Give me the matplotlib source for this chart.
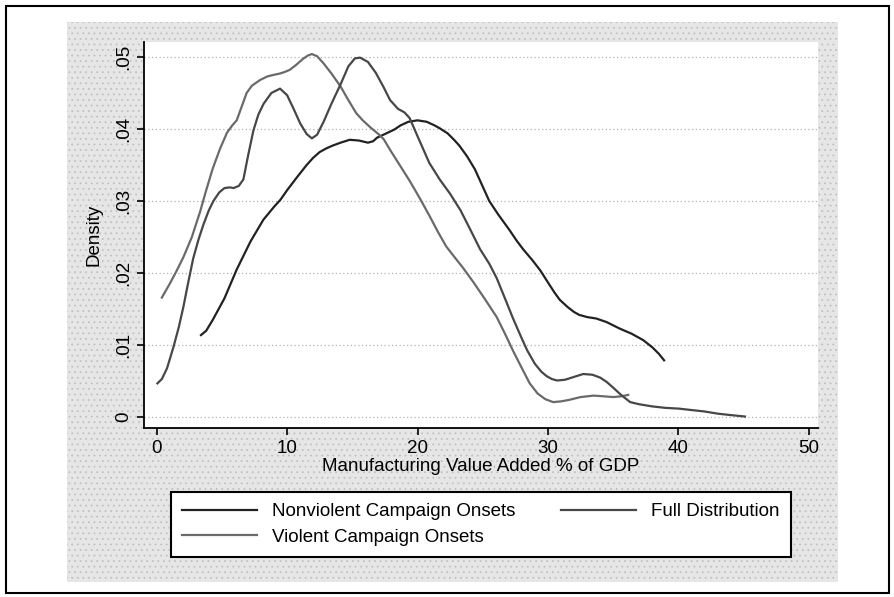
import matplotlib.pyplot as plt
from matplotlib.patches import Rectangle

plt.rcParams['font.family'] = ['Liberation Sans', 'DejaVu Sans']
plt.rcParams['hatch.linewidth'] = 0.5

# 読み取ったカーネル密度（x: 製造業付加価値 % of GDP, y: 密度）
nonviolent_x = [3.4, 3.8, 4.3, 5.2, 6.14, 7.2, 8.18, 9.0, 9.5, 10.0, 10.8, 11.5,
                12.0, 12.5, 13.0, 13.5, 14.1, 14.8, 15.5, 16.2, 16.6, 16.9, 17.5,
                18.2, 18.7, 19.3, 20.0, 20.7, 21.3, 21.7, 22.3, 22.8, 23.2, 23.8,
                24.4, 25.0, 25.5, 26.2, 27.0, 27.6, 28.1, 28.8, 29.4, 30.0, 30.5,
                30.9, 31.5, 32.0, 32.4, 33.0, 33.7, 34.5, 35.5, 36.4, 37.3, 38.0,
                38.5, 38.9]
nonviolent_y = [0.0114, 0.0120, 0.0135, 0.0165, 0.0205, 0.0244, 0.0274, 0.0292,
                0.0302, 0.0315, 0.0334, 0.0350, 0.0360, 0.0368, 0.0373, 0.0377,
                0.0381, 0.0385, 0.0384, 0.0381, 0.0383, 0.0388, 0.0393, 0.0399,
                0.0405, 0.0410, 0.0412, 0.0410, 0.0405, 0.0401, 0.0394, 0.0385,
                0.0377, 0.0362, 0.0344, 0.0320, 0.0300, 0.0281, 0.0261, 0.0245,
                0.0233, 0.0218, 0.0204, 0.0187, 0.0173, 0.0163, 0.0153, 0.0146,
                0.0142, 0.0139, 0.0137, 0.0132, 0.0123, 0.0116, 0.0107, 0.0097,
                0.0088, 0.0079]

full_x = [0.06, 0.4, 0.8, 1.3, 1.7, 2.05, 2.4, 2.8, 3.2, 3.6, 4.0, 4.35, 4.8,
          5.2, 5.6, 5.9, 6.3, 6.65, 7.0, 7.42, 7.8, 8.2, 8.8, 9.46, 10.0, 10.5,
          11.0, 11.5, 11.9, 12.3, 12.8, 13.4, 14.1, 14.7, 15.2, 15.6, 16.2,
          16.8, 17.4, 17.9, 18.5, 19.0, 19.4, 20.0, 20.9, 21.7, 22.5, 23.3,
          24.0, 24.8, 25.5, 26.07, 26.7, 27.3, 27.9, 28.4, 29.0, 29.5, 29.9,
          30.3, 30.7, 31.3, 32.0, 32.7, 33.4, 34.0, 34.5, 35.0, 35.6, 36.3,
          37.0, 38.0, 39.0, 40.0, 41.0, 42.0, 43.0, 44.0, 45.1]
full_y = [0.0047, 0.0053, 0.0068, 0.0098, 0.0125, 0.0153, 0.0185, 0.0220,
          0.0246, 0.0268, 0.0287, 0.0300, 0.0312, 0.0318, 0.0319, 0.0318,
          0.0321, 0.0330, 0.0362, 0.0398, 0.0420, 0.0435, 0.0450, 0.0456,
          0.0447, 0.0428, 0.0408, 0.0393, 0.0387, 0.0392, 0.0410, 0.0435,
          0.0462, 0.0487, 0.0498, 0.0499, 0.0493, 0.0478, 0.0458, 0.0440,
          0.0428, 0.0423, 0.0415, 0.0390, 0.0353, 0.0330, 0.0310, 0.0287,
          0.0262, 0.0233, 0.0213, 0.0193, 0.0165, 0.0138, 0.0113, 0.0093,
          0.0074, 0.0063, 0.0057, 0.0053, 0.0051, 0.0052, 0.0056, 0.0060,
          0.0059, 0.0055, 0.0049, 0.0041, 0.0031, 0.0021, 0.0018, 0.0015,
          0.0013, 0.0012, 0.0010, 0.0008, 0.0005, 0.0003, 0.0001]

violent_x = [0.4, 1.0, 1.5, 2.05, 2.7, 3.33, 3.8, 4.3, 4.87, 5.4, 5.8, 6.14,
             6.5, 6.9, 7.3, 7.93, 8.5, 8.95, 9.46, 9.8, 10.2, 10.7, 11.2, 11.6,
             11.9, 12.3, 12.8, 13.4, 14.1, 14.7, 15.3, 15.8, 16.4, 17.0, 17.4,
             18.0, 18.7, 19.4, 20.2, 20.9, 21.6, 22.2, 22.8, 23.5, 24.3, 25.2,
             26.07, 26.7, 27.3, 28.0, 28.6, 29.2, 29.8, 30.4, 31.0, 31.6, 32.5,
             33.5, 34.3, 35.0, 35.6, 36.15]
violent_y = [0.0166, 0.0185, 0.0202, 0.0222, 0.0250, 0.0285, 0.0315, 0.0345,
             0.0373, 0.0395, 0.0405, 0.0412, 0.0430, 0.0450, 0.0460, 0.0468,
             0.0473, 0.0475, 0.0477, 0.0479, 0.0482, 0.0489, 0.0497, 0.0502,
             0.0504, 0.0501, 0.0491, 0.0477, 0.0459, 0.0440, 0.0422, 0.0412,
             0.0402, 0.0393, 0.0386, 0.0368, 0.0348, 0.0328, 0.0303, 0.0280,
             0.0256, 0.0237, 0.0223, 0.0207, 0.0187, 0.0163, 0.0139, 0.0116,
             0.0093, 0.0068, 0.0047, 0.0033, 0.0025, 0.0021, 0.0022, 0.0024,
             0.0028, 0.0030, 0.0029, 0.0028, 0.0029, 0.0031]

x_ticks = [0, 10, 20, 30, 40, 50]
y_ticks = [0, 0.01, 0.02, 0.03, 0.04, 0.05]
y_tick_labels = ['0', '.01', '.02', '.03', '.04', '.05']

fig = plt.figure(figsize=(8.95, 5.97), dpi=100)

# 外枠とグレーの背景
fig.patches.append(Rectangle((0.007, 0.007), 0.986, 0.983, transform=fig.transFigure,
                             fill=False, edgecolor='black', linewidth=1.5, zorder=0))
fig.patches.append(Rectangle((0.075, 0.025), 0.861, 0.938, transform=fig.transFigure,
                             facecolor='#e6e6e6', edgecolor='#bdbdbd', linewidth=0,
                             hatch='...', zorder=0))

ax = fig.add_axes([0.161, 0.283, 0.753, 0.647], zorder=2)
ax.set_facecolor('white')

ax.plot(nonviolent_x, nonviolent_y, color='#222222', lw=1.6, label='Nonviolent Campaign Onsets')
ax.plot(violent_x, violent_y, color='#6a6a6a', lw=1.6, label='Violent Campaign Onsets')
ax.plot(full_x, full_y, color='#474747', lw=1.6, label='Full Distribution')

ax.set_xlim(-0.96, 50.7)
ax.set_ylim(-0.0015, 0.0521)
ax.set_xticks(x_ticks)
ax.set_yticks(y_ticks)
ax.set_yticklabels(y_tick_labels, rotation=90, va='center')
ax.tick_params(labelsize=13.5, length=5, width=1.2, color='black')
ax.yaxis.grid(True, linestyle=(0, (1, 2)), color='#b0b0b0', linewidth=0.9)
ax.set_axisbelow(True)

for side in ['top', 'right']:
    ax.spines[side].set_visible(False)
ax.spines['left'].set_linewidth(1.3)
ax.spines['bottom'].set_linewidth(1.3)

ax.set_xlabel('Manufacturing Value Added % of GDP', fontsize=13.5, labelpad=1)
ax.set_ylabel('Density', fontsize=13.5, labelpad=9)

leg = fig.legend(loc='upper left', bbox_to_anchor=(0.191, 0.176, 0.693, 0.0),
                 mode='expand', ncol=2, fontsize=13.5, frameon=True, fancybox=False,
                 edgecolor='black', handlelength=4.0, handletextpad=0.8,
                 borderaxespad=0, borderpad=0.6, labelspacing=0.45)
leg.set_zorder(3)
leg.get_frame().set_linewidth(1.5)
leg.get_frame().set_facecolor('white')
leg.get_frame().set_alpha(1)

fig.savefig('out.png', dpi=100)
